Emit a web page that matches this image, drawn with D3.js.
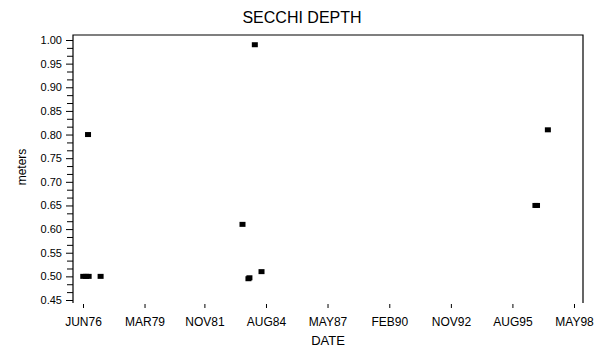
<!DOCTYPE html>
<html lang="en">
<head>
    <meta charset="UTF-8">
    <title>Secchi depth</title>
    <script src="https://d3js.org/d3.v7.min.js"></script>
    <style>
        body { margin: 0; background: #fff; }
        text { font-family: "Liberation Sans", Arial, sans-serif; fill: #000; }
    </style>
</head>
<body>
<svg id="main" width="605" height="354"></svg>
<script>
    // data
    const sampleDates = ["1976-06-05", "1976-07-20", "1976-09-01", "1977-03-15", "1976-08-22",
        "1983-07-15", "1983-10-20", "1983-11-05", "1984-02-01", "1984-05-20",
        "1996-08-10", "1996-09-05", "1997-03-01"];
    const depths = [0.50, 0.50, 0.50, 0.50, 0.80,
        0.61, 0.495, 0.497, 0.99, 0.51,
        0.65, 0.65, 0.81];

    const tickDates = ["1976-06-01", "1979-03-01", "1981-11-01", "1984-08-01", "1987-05-01",
        "1990-02-01", "1992-11-01", "1995-08-01", "1998-05-01"];
    const tickLabels = ["JUN76", "MAR79", "NOV81", "AUG84", "MAY87", "FEB90", "NOV92", "AUG95", "MAY98"];
    const yTicks = [0.45, 0.50, 0.55, 0.60, 0.65, 0.70, 0.75, 0.80, 0.85, 0.90, 0.95, 1.00];

    let svg = d3.select('svg#main');
    let box = {left: 73, right: 583, top: 35, bottom: 303};

    let parse = d3.utcParse("%Y-%m-%d");
    let points = sampleDates.map(function (d, i) {
        return {date: parse(d), depth: depths[i]};
    });

    let xScale = d3.scaleUtc()
        .domain([parse(tickDates[0]), parse(tickDates[tickDates.length - 1])])
        .range([83, 574]);
    let yScale = d3.scaleLinear()
        .domain([0.45, 1.00])
        .range([300, 40]);

    // title
    svg.append('text')
        .attr('x', 302).attr('y', 23)
        .attr('text-anchor', 'middle')
        .style('font-size', '16px')
        .text('SECCHI  DEPTH');

    // frame: left axis line, top and right, no bottom
    svg.append('path')
        .attr('d', 'M' + box.left + ',' + box.bottom + 'V' + box.top + 'H' + box.right + 'V' + box.bottom)
        .attr('fill', 'none')
        .attr('stroke', '#000')
        .attr('stroke-width', 1.2);

    // y minor ticks
    let minor = [];
    for (let i = 0; i < yTicks.length - 1; i++) {
        minor.push(yTicks[i] + 0.05 / 3, yTicks[i] + 0.1 / 3);
    }
    svg.append('g')
        .attr('transform', 'translate(' + box.left + ',0)')
        .call(d3.axisLeft(yScale).tickValues(minor).tickSize(6).tickFormat(''))
        .call(function (g) { g.select('.domain').remove(); });

    // y major ticks
    let yAxis = svg.append('g')
        .attr('transform', 'translate(' + box.left + ',0)')
        .call(d3.axisLeft(yScale).tickValues(yTicks).tickSize(7).tickPadding(4).tickFormat(d3.format('.2f')));
    yAxis.select('.domain').remove();
    yAxis.selectAll('text').style('font-size', '11px').style('font-family', '"Liberation Sans", Arial, sans-serif');

    // x axis, ticks only, sitting below the plot
    let xAxis = svg.append('g')
        .attr('transform', 'translate(0,' + (box.bottom + 1) + ')')
        .call(d3.axisBottom(xScale)
            .tickValues(tickDates.map(parse))
            .tickSize(4).tickPadding(9)
            .tickFormat(function (d, i) { return tickLabels[i]; }));
    xAxis.select('.domain').remove();
    xAxis.selectAll('text').style('font-size', '12px').style('font-family', '"Liberation Sans", Arial, sans-serif');

    // axis titles
    svg.append('text')
        .attr('x', (box.left + box.right) / 2).attr('y', 345)
        .attr('text-anchor', 'middle')
        .style('font-size', '13px')
        .text('DATE');
    svg.append('text')
        .attr('transform', 'translate(26,167) rotate(-90)')
        .attr('text-anchor', 'middle')
        .style('font-size', '12px')
        .text('meters');

    // square markers
    svg.append('g').selectAll('rect')
        .data(points)
        .enter()
        .append('rect')
        .attr('x', function (d) { return xScale(d.date) - 3; })
        .attr('y', function (d) { return yScale(d.depth) - 2.5; })
        .attr('width', 6)
        .attr('height', 5)
        .attr('fill', '#000');
</script>
</body>
</html>
